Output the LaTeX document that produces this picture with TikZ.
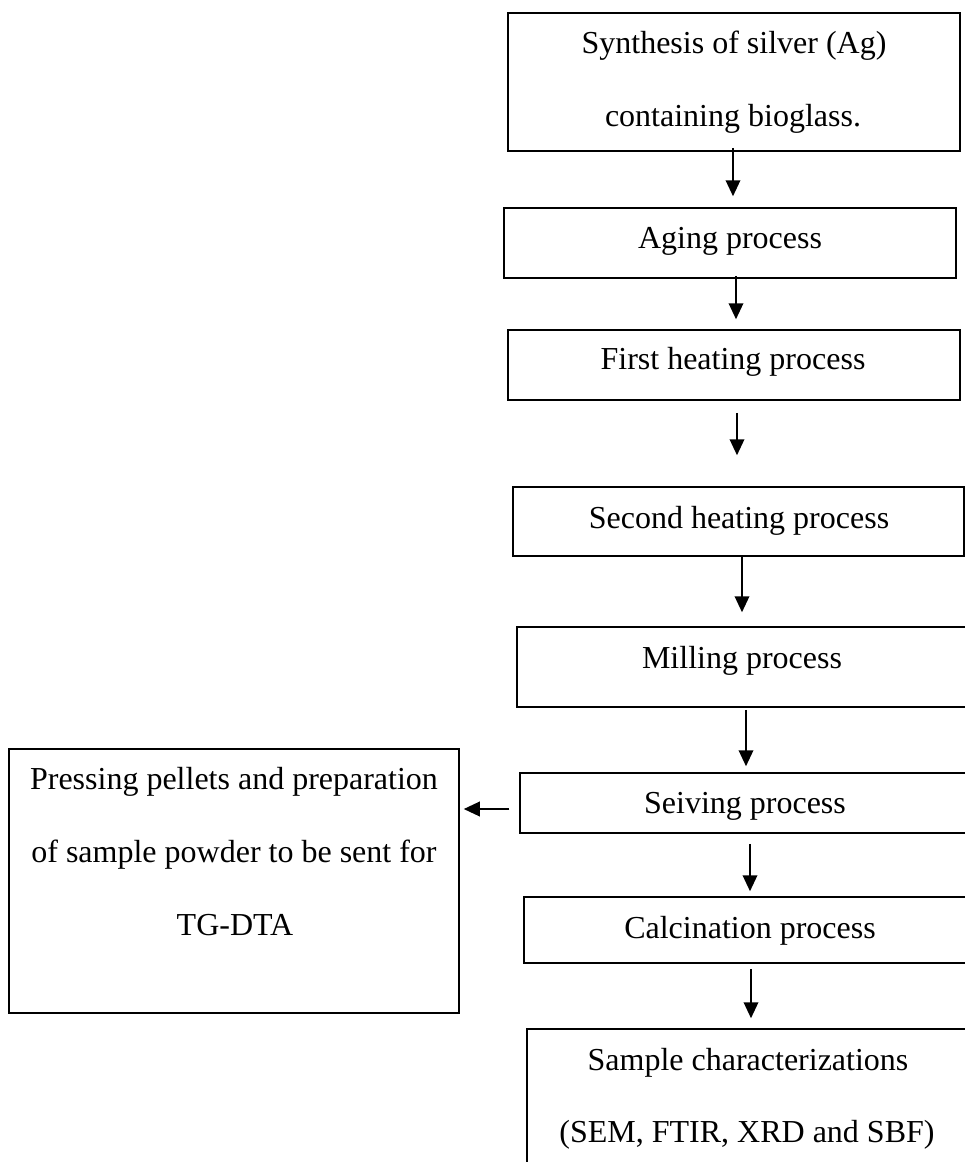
\documentclass[tikz,border=0pt]{standalone}
\usepackage{fontspec}
\setmainfont{Liberation Serif}
\usetikzlibrary{arrows.meta}
\begin{document}
\begin{tikzpicture}[x=1pt,y=-1pt,
  stepbox/.style={draw=black,line width=1.5pt,rectangle,inner sep=0pt,minimum width=#1},
  stepbox/.default=452pt,
  lbl/.style={anchor=base,inner sep=0pt,font=\fontsize{32}{38}\selectfont},
  arr/.style={line width=2pt,-{Triangle[width=14.5pt,length=16pt]}}]
\useasboundingbox (0,0) rectangle (965,1162);
\clip (0,0) rectangle (965,1162);
\fill[white] (0,0) rectangle (965,1162);
% boxes
\node[stepbox,minimum height=138pt] (b1) at (734,82) {};
\node[stepbox,minimum height=70pt] (b2) at (730,243) {};
\node[stepbox,minimum height=70pt] (b3) at (734,365) {};
\node[stepbox=451pt,minimum height=69pt] (b4) at (738.5,521.5) {};
\node[stepbox,minimum height=80pt] (b5) at (743,667) {};
\node[stepbox,minimum height=60pt] (b6) at (746,803) {};
\node[stepbox,minimum height=66pt] (b7) at (750,930) {};
\node[stepbox,minimum height=180pt] (b8) at (753,1119) {};
\node[stepbox=450pt,minimum height=264pt] (lb) at (234,881) {};
% texts
\node[lbl] (t1a) at (734,53) {Synthesis of silver (Ag)};
\node[lbl] (t1b) at (733,126) {containing bioglass.};
\node[lbl] (t2) at (730,248) {Aging process};
\node[lbl] (t3) at (733,369) {First heating process};
\node[lbl] (t4) at (739,528) {Second heating process};
\node[lbl] (t5) at (742,668) {Milling process};
\node[lbl] (t6) at (745,813) {Seiving process};
\node[lbl] (t7) at (750,938) {Calcination process};
\node[lbl] (t8a) at (748,1070) {Sample characterizations};
\node[lbl] (t8b) at (747,1142) {(SEM, FTIR, XRD and SBF)};
\node[lbl] (tla) at (234,789) {Pressing pellets and preparation};
\node[lbl] (tlb) at (234,862) {of sample powder to be sent for};
\node[lbl] (tlc) at (235,935) {TG-DTA};
% arrows
\draw[arr] ([xshift=-1pt,yshift=4pt]b1.south) -- ([xshift=3pt,yshift=11pt]b2.north);
\draw[arr] ([xshift=6pt,yshift=3pt]b2.south) -- ([xshift=2pt,yshift=10pt]b3.north);
\draw[arr] ([xshift=3pt,yshift=-12pt]b3.south) -- ([xshift=-1.5pt,yshift=31pt]b4.north);
\draw[arr] ([xshift=3.5pt]b4.south) -- ([xshift=-1pt,yshift=14pt]b5.north);
\draw[arr] ([xshift=3pt,yshift=-2pt]b5.south) -- ([yshift=6pt]b6.north);
\draw[arr] ([xshift=4pt,yshift=-10pt]b6.south) -- ([yshift=5pt]b7.north);
\draw[arr] ([xshift=1pt,yshift=-5pt]b7.south) -- ([xshift=-2pt,yshift=10pt]b8.north);
\draw[arr] ([xshift=-10pt,yshift=-6pt]b6.west) -- ([xshift=4pt,yshift=72pt]lb.east);
\end{tikzpicture}
\end{document}
